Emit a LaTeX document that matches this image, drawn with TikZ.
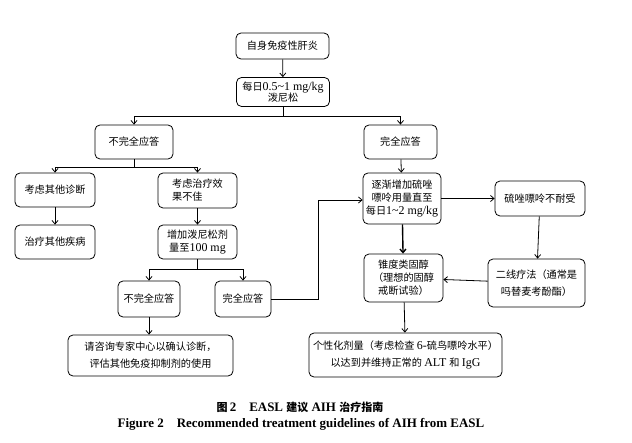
\documentclass[tikz,border=0pt]{standalone}
\usepackage{fontspec}
\setmainfont{Liberation Serif}
\newfontfamily\cjk[Scale=0.85]{Noto Sans CJK SC}
\newcommand{\zh}[1]{{\cjk #1}}
\usetikzlibrary{arrows.meta}
\begin{document}
\begin{tikzpicture}[x=1bp,y=-1bp,
  box/.style={draw, rounded corners=5bp, line width=0.8bp, align=center, inner sep=1bp,
    font=\fontsize{12}{13}\selectfont},
  arr/.style={-{Straight Barb[length=3.5bp,width=6bp]}, line width=0.8bp},
  ln/.style={line width=0.8bp}]
\useasboundingbox (0,0) rectangle (632,443);

\node[box, minimum width=93bp, minimum height=26bp] (n1) at (282.5,46) {\zh{自身免疫性肝炎}};
\node[box, minimum width=93bp, minimum height=29bp] (n2) at (283,92) {\zh{每日}0.5\textasciitilde1 mg/kg\\[-2bp]\zh{泼尼松}};
\node[box, minimum width=78bp, minimum height=34bp] (n3) at (134,142) {\zh{不完全应答}};
\node[box, minimum width=73bp, minimum height=34bp] (n4) at (400.5,142) {\zh{完全应答}};
\node[box, minimum width=80bp, minimum height=34bp] (n5) at (55,190) {\zh{考虑其他诊断}};
\node[box, minimum width=80bp, minimum height=34bp] (n6) at (55,242) {\zh{治疗其他疾病}};
\node[box, minimum width=79bp, minimum height=35bp, align=left] (n7) at (197.5,190.5) {\zh{考虑治疗效}\\\zh{果不佳}};
\node[box, minimum width=79bp, minimum height=34bp] (n8) at (197.5,242) {\zh{增加泼尼松剂}\\\zh{量至}100 mg};
\node[box, minimum width=62bp, minimum height=36bp] (n9) at (149,299) {\zh{不完全应答}};
\node[box, minimum width=56bp, minimum height=36bp] (n10) at (243,299) {\zh{完全应答}};
\node[box, minimum width=165bp, minimum height=41bp, font=\fontsize{12}{17}\selectfont] (n11) at (150.5,355.5) {\zh{请咨询专家中心以确认诊断，}\\\zh{评估其他免疫抑制剂的使用}};
\node[box, minimum width=78bp, minimum height=51bp] (n12) at (402,198.5) {\zh{逐渐增加硫唑}\\\zh{嘌呤用量直至}\\\zh{每日}1\textasciitilde2 mg/kg};
\node[box, minimum width=90bp, minimum height=35bp] (n13) at (540,198.5) {\zh{硫唑嘌呤不耐受}};
\node[box, minimum width=97bp, minimum height=48bp, font=\fontsize{12}{17}\selectfont] (n14) at (536.5,283) {\zh{二线疗法（通常是}\\\zh{吗替麦考酚酯）}};
\node[box, minimum width=79bp, minimum height=48bp] (n15) at (403.5,278) {\zh{锥度类固醇}\\\zh{（理想的固醇}\\\zh{戒断试验）}};
\node[box, minimum width=193bp, minimum height=44bp, font=\fontsize{12}{17}\selectfont] (n16) at (405.5,355) {\zh{个性化剂量（考虑检查 }6-\zh{硫鸟嘌呤水平）}\\\zh{以达到并维持正常的 }ALT \zh{和 }IgG};

\coordinate (b1) at (283,116);
\coordinate (b2) at (134,167);
\coordinate (b3) at (197.5,269);
\coordinate (c1) at (318,200);

\draw[arr] (n1) -- (n2);
\draw[ln] (n2) -- (b1);
\draw[arr] (b1) -| (n3);
\draw[arr] (b1) -| (n4);
\draw[ln] (n3) -- (b2);
\draw[arr] (b2) -| (n5);
\draw[arr] (b2) -| (n7);
\draw[arr] (n5) -- (n6);
\draw[arr] (n7) -- (n8);
\draw[ln] (n8) -- (b3);
\draw[arr] (b3) -| (n9);
\draw[arr] (b3) -| (n10);
\draw[arr] (n9.south) -- (n9.south |- n11.north);
\draw[arr] (n10.east) -| (c1) -- (c1 -| n12.west);
\draw[arr] (n4) -- (n12);
\draw[arr] (n12) -- (n13);
\draw[arr] (n13) -- (n14);
\draw[arr] (n14) -- (n15);
\draw[arr, line width=1.4bp] (n12) -- (n15);
\draw[arr] (n15) -- (n16);

\node[font=\fontsize{13}{14}\selectfont\bfseries] (cap1) at (300,407) {\zh{图}\,2\quad EASL \zh{建议} AIH \zh{治疗指南}};
\node[font=\fontsize{13}{14}\selectfont\bfseries] (cap2) at (301,424) {Figure 2\quad Recommended treatment guidelines of AIH from EASL};
\end{tikzpicture}
\end{document}
